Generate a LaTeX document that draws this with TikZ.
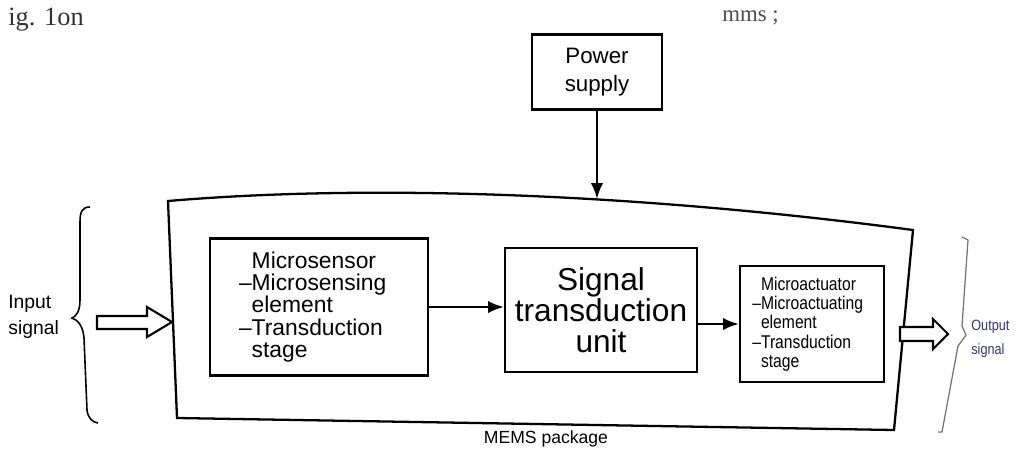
\documentclass[tikz,border=0pt]{standalone}
\usepackage{fontspec}
\setmainfont{Liberation Sans}
\newfontfamily\serifpart{Liberation Serif}
\newfontfamily\narrowsans[FakeStretch=0.85,Ligatures=TeX]{Liberation Sans}
\usetikzlibrary{arrows.meta}
\begin{document}
\begin{tikzpicture}[x=0.02cm,y=-0.02cm,
  box/.style={draw, line width=1.3pt, inner sep=0pt},
  conn/.style={line width=1.3pt, -{Latex[length=9pt,width=7pt]}},
  hollow/.style={draw, line width=1.2pt, fill=white, line join=miter},
  brace/.style={line width=0.9pt},
  lbl/.style={inner sep=0pt}]
\useasboundingbox (0,0) rectangle (1015,457);

% page fragments
\node[lbl, anchor=west, font=\serifpart\fontsize{15}{15}\selectfont, text=black!80] (frag1) at (8,20) {ig. 1on};
\node[lbl, anchor=west, font=\serifpart\fontsize{13}{13}\selectfont, text=black!70] (frag2) at (722,18) {mms ;};

% boxes
\node[box, minimum width=2.6cm, minimum height=1.5cm, align=center,
      font=\fontsize{12.7}{16}\selectfont] (power) at (597,72) {Power\\supply};
\node[box, minimum width=4.36cm, minimum height=2.74cm, align=left,
      font=\fontsize{13}{12.6}\selectfont] (ms) at (319,307)
  {Microsensor\\\llap{–}Microsensing\\element\\\llap{–}Transduction\\stage};
\node[box, minimum width=3.84cm, minimum height=2.48cm, align=center,
      font=\fontsize{18}{17.5}\selectfont] (st) at (601,310)
  {Signal\\transduction\\unit};
\node[box, minimum width=2.88cm, minimum height=2.32cm, align=left,
      font=\narrowsans\fontsize{10.5}{11}\selectfont] (ma) at (812,324)
  {Microactuator\\\llap{–}Microactuating\\element\\\llap{–}Transduction\\stage};

% MEMS package frame
\draw[line width=1.3pt] (168,201) .. controls (380,183) and (650,195) .. (913,230)
  -- (894,430) -- (177,418) -- cycle;
\coordinate (pin) at (597,199);
\node[lbl, font=\fontsize{10}{10}\selectfont] (mems) at (546,439) {MEMS package};

% connectors
\draw[conn] (power.south) -- (pin);
\draw[conn] (ms.east) -- (ms.east -| st.west);
\draw[conn] (st.east |- ma.west) -- (ma.west);

% hollow arrows
\draw[hollow] (97,316) -- (147,316) -- (147,307) -- (172,322) -- (147,337) -- (147,329) -- (97,329) -- cycle;
\draw[hollow] (900,327) -- (933,327) -- (933,319) -- (948,334) -- (933,349) -- (933,341) -- (900,341) -- cycle;

% braces
\draw[brace] (90,207) .. controls (82,207) and (80,212) .. (80,222) -- (80,300)
  .. controls (80,312) and (76,316) .. (72,318)
  .. controls (78,320) and (83,326) .. (84,338) -- (87,410)
  .. controls (88,418) and (92,422) .. (98,423);
\draw[brace, line width=0.7pt, black!55] (962,237) -- (968,240) -- (962,326) -- (966,335)
  -- (958,346) -- (942,432) -- (938,432);

% side labels
\node[lbl, anchor=west, align=left, font=\fontsize{11}{15}\selectfont] (insig) at (8,317) {Input\\signal};
\node[lbl, anchor=west, align=left, font=\narrowsans\fontsize{8.5}{14}\selectfont, text=black!55!blue!60!gray] (outsig) at (971,339) {Output\\signal};
\end{tikzpicture}
\end{document}
